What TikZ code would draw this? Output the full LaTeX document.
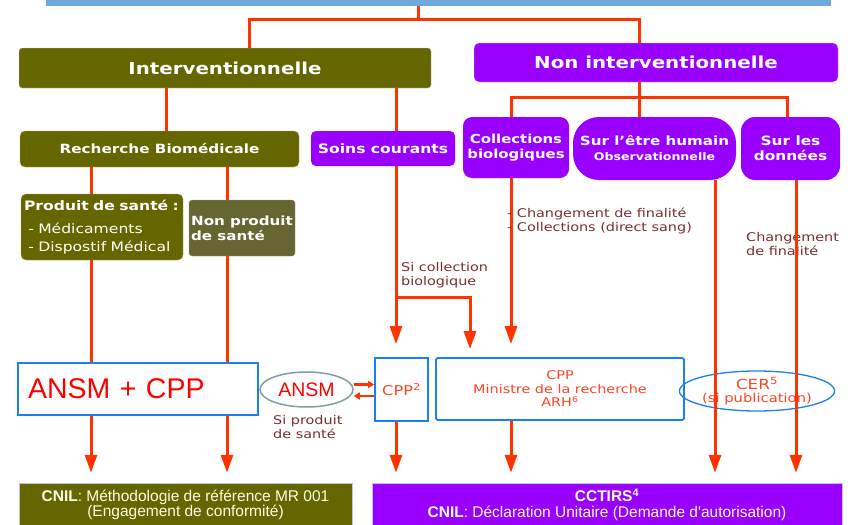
\documentclass[tikz,border=0pt]{standalone}
\usepackage{fontspec}
\setmainfont[FakeStretch=1.2]{DejaVu Sans}
\newfontfamily\arialfont{Liberation Sans}
\usetikzlibrary{arrows.meta,shapes.geometric}

\definecolor{oliveBox}{HTML}{666600}
\definecolor{oliveGrey}{HTML}{666633}
\definecolor{violetBox}{HTML}{9900FF}
\definecolor{linkRed}{HTML}{FF3300}
\definecolor{frameBlue}{HTML}{1A7FF0}
\definecolor{barBlue}{HTML}{6FAADF}
\definecolor{noteBrown}{HTML}{7A2E2E}
\definecolor{cppRed}{HTML}{FF4422}
\definecolor{ansmGrey}{HTML}{7F9F9F}

\newcommand{\fs}[2]{\fontsize{#1}{#2}\selectfont}

\begin{document}
\begin{tikzpicture}[x=1pt,y=-1pt]
	\tikzset{box/.style = {rectangle, rounded corners=3pt, text=white, inner sep=2pt, align=center, font=\bfseries}}
	\tikzset{olivebox/.style = {box, fill=oliveBox, draw=blue!25, thin}}
	\tikzset{violetbox/.style = {box, fill=violetBox, draw=blue!25, thin}}
	\tikzset{instance/.style = {rectangle, draw=frameBlue, line width=1.8pt, fill=white, text=cppRed, align=center}}
	\tikzset{link/.style = {draw=linkRed, line width=3pt}}
	\tikzset{arrow/.style = {link, -{Triangle[length=18pt,width=12pt]}}}
	\tikzset{small arrow/.style = {draw=linkRed, line width=2.2pt, -{Triangle[length=6pt,width=7pt]}}}
	\tikzset{note/.style = {text=noteBrown, align=left, inner sep=0pt, font=\fs{12}{14}}}

	\useasboundingbox (0,0) rectangle (863,525);
	\clip (0,0) rectangle (863,525);

	% columns of the connectors
	\coordinate (j0) at (418,19);
	\coordinate (j1) at (396,297);
	\coordinate (j2) at (639,97);
	\coordinate (k1) at (91,0);
	\coordinate (k2) at (227,0);
	\coordinate (k3) at (249,0);
	\coordinate (k4) at (166,0);
	\coordinate (k5) at (396,0);
	\coordinate (k6) at (470,0);
	\coordinate (k7) at (511,0);
	\coordinate (k8) at (715,0);
	\coordinate (k9) at (796,0);
	\coordinate (k10) at (787,0);

	\node[fill=barBlue, minimum width=785pt, minimum height=16pt, inner sep=0pt] (bar) at (438.5,-2) {};

	% first level
	\node[olivebox, minimum width=412pt, minimum height=40pt, font=\bfseries\fs{16.5}{18}] (inter) at (225,68) {Interventionnelle};
	\node[violetbox, rounded corners=5pt, minimum width=364pt, minimum height=39pt, font=\bfseries\fs{16.5}{18}] (nonint) at (656,62.5) {Non interventionnelle};

	% second level
	\node[olivebox, draw=oliveBox!60!white, rounded corners=5pt, minimum width=279pt, minimum height=36pt, font=\bfseries\fs{12.7}{15}] (recherche) at (159.5,149) {Recherche Biomédicale};
	\node[violetbox, draw=none, rounded corners=5pt, minimum width=144pt, minimum height=35pt, font=\bfseries\fs{13}{15}] (soins) at (383,148.5) {Soins courants};
	\node[violetbox, draw=none, rounded corners=9pt, minimum width=106pt, minimum height=61pt, font=\bfseries\fs{12.4}{15}] (coll) at (516,147.5) {Collections\\biologiques};
	\node[violetbox, draw=none, rounded corners=26pt, minimum width=163pt, minimum height=63pt, font=\bfseries\fs{12.6}{15}] (humain) at (654.5,148.5) {Sur l'être humain\\{\fs{10.5}{15}Observationnelle}};
	\node[violetbox, draw=none, rounded corners=14pt, minimum width=99pt, minimum height=63pt, font=\bfseries\fs{12.8}{15}] (donnees) at (790.5,148.5) {Sur les\\données};

	% third level
	\node[olivebox, draw=oliveBox!60!white, rounded corners=5pt, minimum width=162pt, minimum height=66pt, text width=156pt, align=left, font=\fs{13}{18.5}] (produit) at (102,227) {{\bfseries Produit de santé :}\\[4.5pt]\mdseries\ - Médicaments\\\ - Dispostif Médical};
	\node[olivebox, fill=oliveGrey, draw=oliveGrey!60!white, minimum width=106pt, minimum height=56pt, align=left, font=\bfseries\fs{12.6}{15}] (nonprod) at (242,228) {Non produit\\de santé};

	% bottom level
	\node[olivebox, rounded corners=0pt, minimum width=333pt, minimum height=44pt, font=\arialfont\fs{15.5}{15}, text=white!90!yellow] (cnil) at (185.5,505) {{\bfseries CNIL}: Méthodologie de référence MR 001\\(Engagement de conformité)};
	\node[violetbox, rounded corners=0pt, minimum width=470pt, minimum height=44pt, font=\arialfont\fs{15.5}{16}, text=white!90!yellow] (cctirs) at (607,505) {{\bfseries CCTIRS\textsuperscript{4}}\\{\bfseries CNIL}: Déclaration Unitaire (Demande d'autorisation)};

	% committees
	\node[instance, minimum width=53pt, minimum height=63pt, inner sep=0pt, font=\fs{13.5}{15}] (cpp2) at (401.5,389.5) {CPP\textsuperscript{2}};
	\node[instance, rounded corners=2pt, minimum width=248pt, minimum height=62pt, font=\fs{12}{13.5}] (cppbig) at (560,389) {CPP\\Ministre de la recherche\\ARH\textsuperscript{6}};
	\node[ellipse, draw=frameBlue, line width=1.3pt, minimum width=126pt, minimum height=40pt, inner sep=0pt, text=cppRed, align=center, font=\fs{14}{13}] (cer) at (757,391) {CER\textsuperscript{5}\\{\fs{12.3}{13}(si publication)}};
	\node[ellipse, draw=ansmGrey, line width=1.5pt, fill=white, minimum width=93pt, minimum height=35pt, inner sep=0pt, text=red, font=\arialfont\fs{19.5}{20}] (ansm) at (306.5,389.5) {ANSM};

	% notes
	\node[note, anchor=north west] (n1) at (401,262) {Si collection\\biologique};
	\node[note, anchor=north west] (n3) at (746,232) {Changement\\de finalité};
	\node[note, anchor=north west] (n4) at (273,415) {Si produit\\de santé};

	% connectors
	\draw[link] (bar.south -| j0) -- (j0);
	\draw[link] (inter.north -| k3) |- (j0) -| (nonint.north -| j2);
	\draw[link] (inter.south -| k4) -- (recherche.north -| k4);
	\draw[link] (inter.south -| k5) -- (soins.north -| k5);
	\draw[link] (recherche.south -| k1) -- (produit.north -| k1);
	\draw[link] (recherche.south -| k2) -- (nonprod.north -| k2);
	\draw[link] (nonint.south -| j2) -- (humain.north -| j2);
	\draw[link] (coll.north -| k7) |- (j2) -| (donnees.north -| k10);

	\draw[arrow, shorten >=10pt] (produit.south -| k1) -- (cnil.north -| k1);
	\draw[arrow, shorten >=10pt] (nonprod.south -| k2) -- (cnil.north -| k2);
	\draw[arrow, shorten >=13pt] (soins.south -| k5) -- (cpp2.north -| k5);
	\draw[arrow, shorten >=8pt] (j1) -| (cppbig.north -| k6);
	\draw[arrow, shorten >=13pt] (coll.south -| k7) -- (cppbig.north -| k7);
	\draw[arrow, shorten >=10pt] (cpp2.south -| k5) -- (cctirs.north -| k5);
	\draw[arrow, shorten >=10pt] (cppbig.south -| k7) -- (cctirs.north -| k7);
	\draw[arrow, shorten >=10pt] (humain.south -| k8) -- (cctirs.north -| k8);
	\draw[arrow, shorten >=10pt] (donnees.south -| k9) -- (cctirs.north -| k9);

	\draw[small arrow] ([yshift=5pt]ansm.east) -- ([yshift=5pt]ansm.east -| cpp2.west);
	\draw[small arrow] ([yshift=-6.5pt]cpp2.west) -- ([yshift=-6.5pt]cpp2.west -| ansm.east);

	% note written over its line
	\node[note, anchor=north west] (n2) at (507,208) {- Changement de finalité\\- Collections (direct sang)};

	% box drawn over the two columns
	\node[rectangle, draw=frameBlue, line width=1.5pt, fill=white, minimum width=240pt, minimum height=52pt, inner sep=10pt, text width=220pt, align=left, text=red, font=\arialfont\fs{28.5}{30}] (ansmcpp) at (138,389) {ANSM + CPP};
\end{tikzpicture}
\end{document}
